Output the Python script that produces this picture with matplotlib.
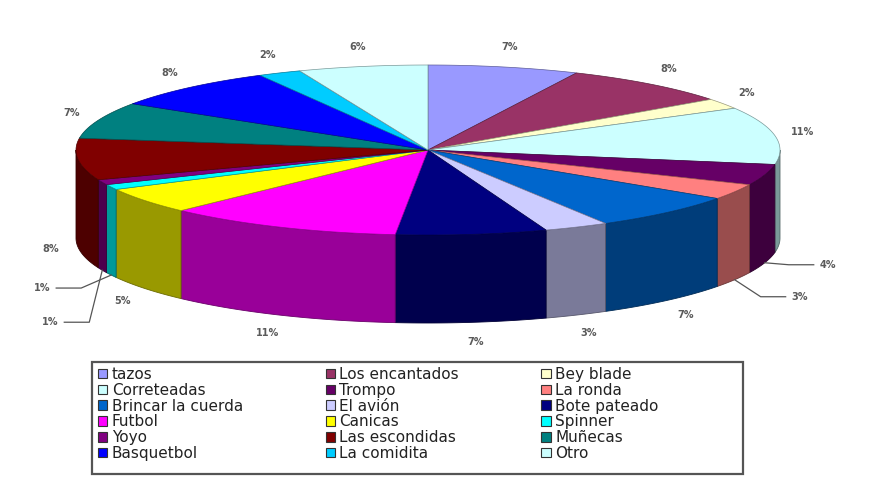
import numpy as np
import matplotlib
matplotlib.use("Agg")
import matplotlib.pyplot as plt
import matplotlib.colors as mcolors
from matplotlib.patches import Polygon, Patch, Rectangle

categories = ["tazos", "Los encantados", "Bey blade", "Correteadas", "Trompo",
              "La ronda", "Brincar la cuerda", "El avión", "Bote pateado",
              "Futbol", "Canicas", "Spinner", "Yoyo", "Las escondidas",
              "Muñecas", "Basquetbol", "La comidita", "Otro"]
values = [7, 8, 2, 11, 4, 3, 7, 3, 7, 11, 5, 1, 1, 8, 7, 8, 2, 6]
colors = ["#9999FF", "#993366", "#FFFFCC", "#CCFFFF", "#660066", "#FF8080",
          "#0066CC", "#CCCCFF", "#000080", "#FF00FF", "#FFFF00", "#00FFFF",
          "#800080", "#800000", "#008080", "#0000FF", "#00CCFF", "#CCFFFF"]

# label leader offsets (pixels) for the small slices
leader = {"Trompo": (63, 2), "La ronda": (65, 17),
          "Spinner": (-69, 13), "Yoyo": (-52, 52)}

W, H = 888, 482
fig = plt.figure(figsize=(W / 100, H / 100), dpi=100)
ax = fig.add_axes([0, 0, 1, 1])
ax.set_xlim(0, W)
ax.set_ylim(H, 0)
ax.axis("off")

cx, cy, a, b, h = 428, 150, 352, 85, 88
start = 0.0
total = float(sum(values))
cum = np.concatenate([[0], np.cumsum(values)]) / total * 360 + start


def pt(th, dy=0.0, ra=a, rb=b):
    r = np.deg2rad(th)
    return cx + ra * np.sin(r), cy - rb * np.cos(r) + dy


def shade(c, f):
    rgb = np.array(mcolors.to_rgb(c))
    return tuple(rgb * f)


# side walls (front half only)
for i, c in enumerate(colors):
    t1, t2 = cum[i], cum[i + 1]
    lo, hi = max(t1, 90), min(t2, 270)
    if hi <= lo:
        continue
    ts = np.linspace(lo, hi, 60)
    xs, ys = pt(ts)
    top = np.column_stack([xs, ys])
    bot = np.column_stack([xs, ys + h])[::-1]
    poly = Polygon(np.vstack([top, bot]), closed=True,
                   facecolor=shade(c, 0.6), edgecolor=shade(c, 0.42),
                   linewidth=0.6, zorder=1)
    ax.add_patch(poly)

# top faces
for i, c in enumerate(colors):
    t1, t2 = cum[i], cum[i + 1]
    ts = np.linspace(t1, t2, 80)
    xs, ys = pt(ts)
    verts = np.vstack([[cx, cy], np.column_stack([xs, ys])])
    poly = Polygon(verts, closed=True, facecolor=c,
                   edgecolor=shade(c, 0.6), linewidth=0.5, zorder=2)
    ax.add_patch(poly)

# labels
for i, cat in enumerate(categories):
    m = (cum[i] + cum[i + 1]) / 2
    pct = f"{round(values[i] / total * 100)}%"
    r = np.deg2rad(m)
    front = np.cos(r) < 0
    if cat in leader:
        x0, y0 = pt(m, h)
        dx, dy = leader[cat]
        lx, ly = x0 + dx, y0 + dy
        sg = 1 if dx > 0 else -1
        p2 = (lx - sg * 14, ly)
        p1 = (p2[0] - sg * 25, ly)
        ax.plot([x0, p1[0], p2[0]], [y0, p1[1], p2[1]], color="#555555",
                lw=0.9, zorder=3)
    else:
        lx, ly = pt(m, h if front else 0, ra=a + 28, rb=b + 20)
    ax.text(lx, ly, pct, ha="center", va="center", fontsize=7,
            fontweight="bold", color="#5a5a5a", zorder=4)

# legend (row-major order like the original, matplotlib fills columns)
handles = [Patch(facecolor=c, edgecolor="#333333", linewidth=0.8) for c in colors]
ncol = 3
order = [i for col in range(ncol) for i in range(col, len(categories), ncol)]
leg = fig.legend([handles[i] for i in order], [categories[i] for i in order],
                 ncol=ncol, loc="upper left",
                 bbox_to_anchor=(98 / W, 1 - 367 / H),
                 fontsize=11, frameon=False,
                 borderpad=0.0, labelspacing=0.05, handlelength=0.6,
                 handleheight=0.6, handletextpad=0.3, columnspacing=5.4,
                 borderaxespad=0.0)
for t in leg.get_texts():
    t.set_color("#222222")
ax.add_patch(Rectangle((92, 362), 651, 112, fill=False, edgecolor="#555555",
                       linewidth=1.6, zorder=5))

fig.savefig("out.png", dpi=100, facecolor="white")
